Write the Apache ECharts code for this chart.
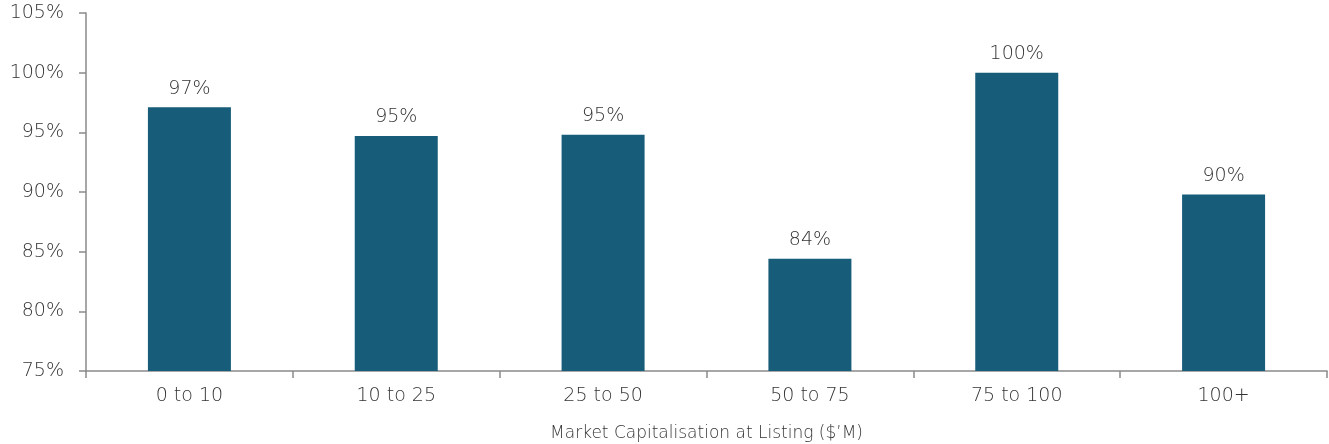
<!DOCTYPE html>
<html>
<head>
<meta charset="utf-8">
<script src="https://cdn.jsdelivr.net/npm/echarts@6/dist/echarts.min.js"></script>
<style>
  html, body { margin: 0; padding: 0; background: #fff; }
  #chart { width: 1329px; height: 444px; }
</style>
</head>
<body>
<div id="chart"></div>
<script>
const categories = ['0 to 10', '10 to 25', '25 to 50', '50 to 75', '75 to 100', '100+'];
const values = [97.1, 94.7, 94.8, 84.4, 100.0, 89.8];
const axisTitle = 'Market Capitalisation at Listing ($\u2019M)';

const textColor = '#333333';
const axisColor = '#8a8a8a';
const fontFamily = '"DejaVu Sans", sans-serif';

const chart = echarts.init(document.getElementById('chart'));

chart.setOption({
  animation: false,
  grid: { left: 86, right: 2, top: 13, bottom: 73, outerBoundsMode: 'none', containLabel: false },
  xAxis: {
    type: 'category',
    data: categories,
    name: axisTitle,
    nameLocation: 'middle',
    nameGap: 54,
    nameTextStyle: { color: textColor, fontSize: 17, fontFamily: fontFamily, fontWeight: 300 },
    axisLine: { lineStyle: { color: axisColor, width: 1.5 } },
    axisTick: { show: true, length: 7, lineStyle: { color: axisColor, width: 1.5 } },
    axisLabel: { color: textColor, fontSize: 19, fontFamily: fontFamily, fontWeight: 300, margin: 16 }
  },
  yAxis: {
    type: 'value',
    min: 75,
    max: 105,
    interval: 5,
    axisLine: { show: true, lineStyle: { color: axisColor, width: 1.5 } },
    axisTick: { show: true, length: 7, lineStyle: { color: axisColor, width: 1.5 } },
    splitLine: { show: false },
    axisLabel: {
      color: textColor, fontSize: 19, fontFamily: fontFamily, fontWeight: 300, margin: 22,
      formatter: v => v + '%'
    }
  },
  series: [{
    type: 'bar',
    data: values,
    barWidth: 83,
    itemStyle: { color: '#175c78' },
    label: {
      show: true,
      position: 'top',
      distance: 9,
      color: textColor,
      fontSize: 19,
      fontFamily: fontFamily,
      fontWeight: 300,
      formatter: p => Math.round(p.value) + '%'
    }
  }]
});
</script>
</body>
</html>
